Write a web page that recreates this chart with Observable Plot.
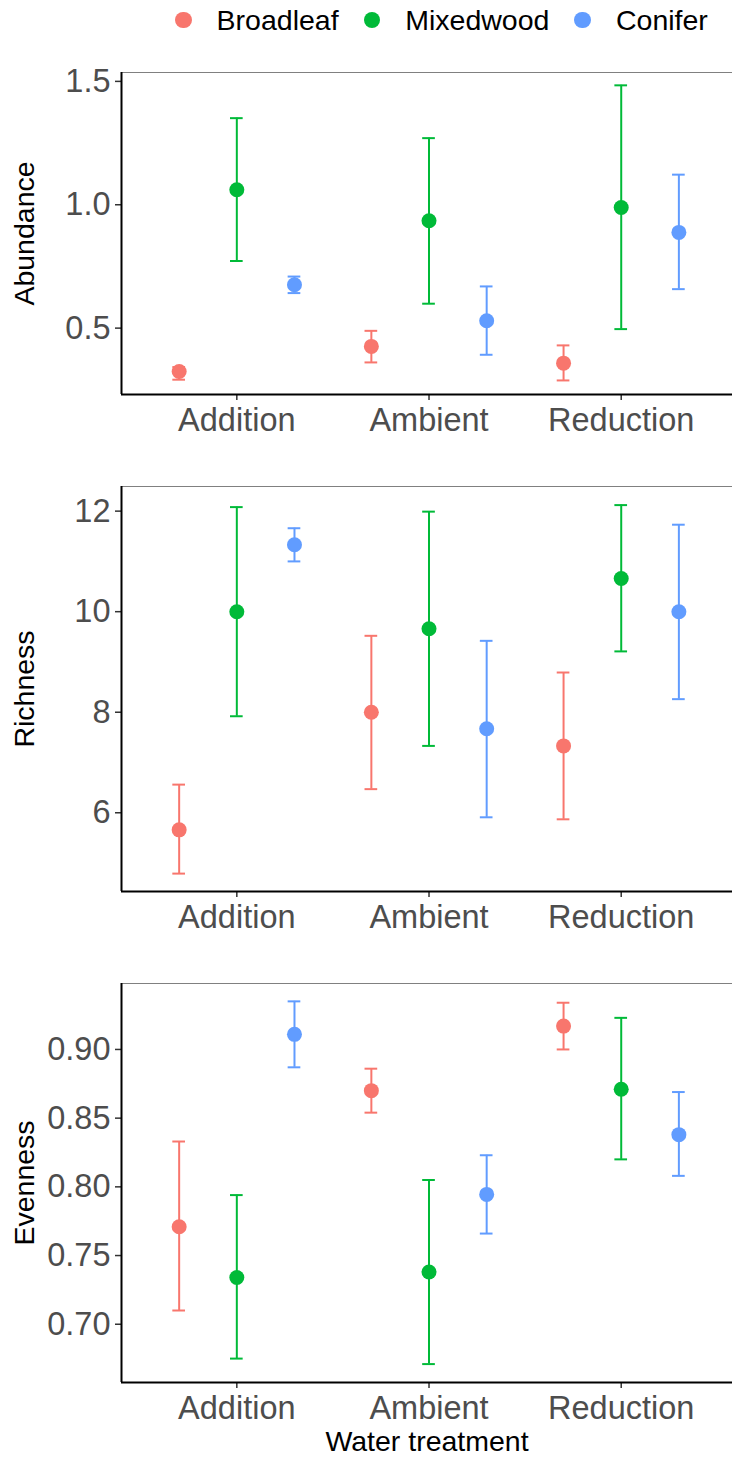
<!DOCTYPE html>
<html>
<head>
<meta charset="utf-8">
<script src="https://cdn.jsdelivr.net/npm/d3@7"></script>
<script src="https://cdn.jsdelivr.net/npm/@observablehq/plot@0.6"></script>
<style>
  body { margin: 0; background: #fff; }
  #root { position: relative; width: 732px; height: 1458px; overflow: hidden; font-family: "Liberation Sans", Arial, sans-serif; }
  #root > .pos { position: absolute; left: 0; }
  .legend { position: absolute; top: 0; left: 175px; height: 40px; display: flex; align-items: center; font-size: 28.5px; color: #000; white-space: nowrap; }
  .legend .dot { display: inline-block; width: 16.6px; height: 16.6px; border-radius: 50%; margin-right: 25px; }
  .legend .lab { margin-right: 25px; }
</style>
</head>
<body>
<div id="root"></div>
<script>
// ---- data ----
const treatments = ["Addition", "Ambient", "Reduction"];
const forestTypes = ["Broadleaf", "Mixedwood", "Conifer"];
const forestColors = ["#F8766D", "#00BA38", "#619CFF"];

// values ordered: Addition (B, M, C), Ambient (B, M, C), Reduction (B, M, C)
const abundanceMean = [0.324, 1.061, 0.676, 0.426, 0.935, 0.530, 0.358, 0.989, 0.888];
const abundanceLow  = [0.291, 0.772, 0.642, 0.361, 0.599, 0.392, 0.288, 0.496, 0.658];
const abundanceHigh = [0.342, 1.351, 0.709, 0.489, 1.270, 0.669, 0.430, 1.484, 1.122];

const richnessMean = [5.66, 10.00, 11.33, 8.00, 9.66, 7.67, 7.33, 10.66, 10.00];
const richnessLow  = [4.79, 7.92, 11.00, 6.47, 7.33, 5.91, 5.87, 9.21, 8.26];
const richnessHigh = [6.56, 12.08, 11.66, 9.52, 11.99, 9.42, 8.79, 12.12, 11.73];

const evennessMean = [0.771, 0.734, 0.911, 0.870, 0.738, 0.7945, 0.917, 0.871, 0.838];
const evennessLow  = [0.710, 0.675, 0.887, 0.854, 0.671, 0.766, 0.900, 0.820, 0.808];
const evennessHigh = [0.833, 0.794, 0.935, 0.886, 0.805, 0.823, 0.934, 0.923, 0.869];

const abundanceTicks = [0.5, 1.0, 1.5];
const richnessTicks = [6, 8, 10, 12];
const evennessTicks = [0.70, 0.75, 0.80, 0.85, 0.90];

// ---- chart ----
const dodge = 0.3;     // dodge offset between forest types (x units)
const capHalf = 0.033; // half width of error bar caps (x units)
const xDomain = [0.4, 3.579];
const font = "'Liberation Sans', Arial, sans-serif";

function rowsFor(mean, low, high) {
  return treatments.flatMap((t, i) => forestTypes.map((f, j) => ({
    treatment: t, forest: f, pos: i + 1 + (j - 1) * dodge,
    mean: mean[i * 3 + j], lo: low[i * 3 + j], hi: high[i * 3 + j]
  })));
}

function panel({rows, label, yDomain, yTicks, yFormat, height, marginTop, marginBottom, xTitle}) {
  const marks = [
    Plot.ruleY([yDomain[1]], {stroke: "#808080", strokeWidth: 1}),
    Plot.ruleX(rows, {x: "pos", y1: "lo", y2: "hi", stroke: "forest", strokeWidth: 2}),
    Plot.ruleY(rows, {x1: d => d.pos - capHalf, x2: d => d.pos + capHalf, y: "lo", stroke: "forest", strokeWidth: 2}),
    Plot.ruleY(rows, {x1: d => d.pos - capHalf, x2: d => d.pos + capHalf, y: "hi", stroke: "forest", strokeWidth: 2}),
    Plot.dot(rows, {x: "pos", y: "mean", fill: "forest", r: 7.5}),
    Plot.axisY({ticks: yTicks, tickFormat: yFormat, tickSize: 6, tickPadding: 5, fontSize: 32.5, color: "#333", fill: "#4d4d4d", strokeWidth: 1.5, label: null}),
    Plot.axisX({ticks: [1, 2, 3], tickFormat: d => treatments[d - 1], tickSize: 6, tickPadding: 7, fontSize: 32.5, color: "#333", fill: "#4d4d4d", strokeWidth: 1.5, label: null}),
    Plot.ruleX([xDomain[0]], {stroke: "black", strokeWidth: 2}),
    Plot.ruleY([yDomain[0]], {stroke: "black", strokeWidth: 2}),
    Plot.text([label], {text: d => d, frameAnchor: "left", dx: -97, rotate: -90, fontSize: 28.5, fill: "black", textAnchor: "middle", lineAnchor: "middle"})
  ];
  if (xTitle) {
    marks.push(Plot.text([xTitle], {text: d => d, frameAnchor: "bottom", dy: 59, fontSize: 28.5, fill: "black", textAnchor: "middle", lineAnchor: "middle"}));
  }
  return Plot.plot({
    width: 732,
    height,
    marginLeft: 121,
    marginRight: 0,
    marginTop,
    marginBottom,
    style: {fontFamily: font, background: "white", overflow: "visible"},
    x: {domain: xDomain, axis: null},
    y: {domain: yDomain, axis: null},
    color: {domain: forestTypes, range: forestColors},
    marks
  });
}

const root = document.getElementById("root");

// legend
const legend = document.createElement("div");
legend.className = "legend";
forestTypes.forEach((f, i) => {
  const dot = document.createElement("span");
  dot.className = "dot";
  dot.style.background = forestColors[i];
  const lab = document.createElement("span");
  lab.className = "lab";
  lab.textContent = f;
  legend.appendChild(dot);
  legend.appendChild(lab);
});
root.appendChild(legend);

const panels = [
  {top: 45, opts: {rows: rowsFor(abundanceMean, abundanceLow, abundanceHigh), label: "Abundance", yDomain: [0.231, 1.536], yTicks: abundanceTicks, yFormat: d3.format(".1f"), height: 399, marginTop: 27, marginBottom: 50}},
  {top: 444, opts: {rows: rowsFor(richnessMean, richnessLow, richnessHigh), label: "Richness", yDomain: [4.434, 12.49], yTicks: richnessTicks, yFormat: d3.format("d"), height: 497, marginTop: 42, marginBottom: 50}},
  {top: 941, opts: {rows: rowsFor(evennessMean, evennessLow, evennessHigh), label: "Evenness", yDomain: [0.6576, 0.948], yTicks: evennessTicks, yFormat: d3.format(".2f"), height: 517, marginTop: 42, marginBottom: 76, xTitle: "Water treatment"}}
];

panels.forEach(p => {
  const wrap = document.createElement("div");
  wrap.className = "pos";
  wrap.style.top = p.top + "px";
  wrap.appendChild(panel(p.opts));
  root.appendChild(wrap);
});
</script>
</body>
</html>
